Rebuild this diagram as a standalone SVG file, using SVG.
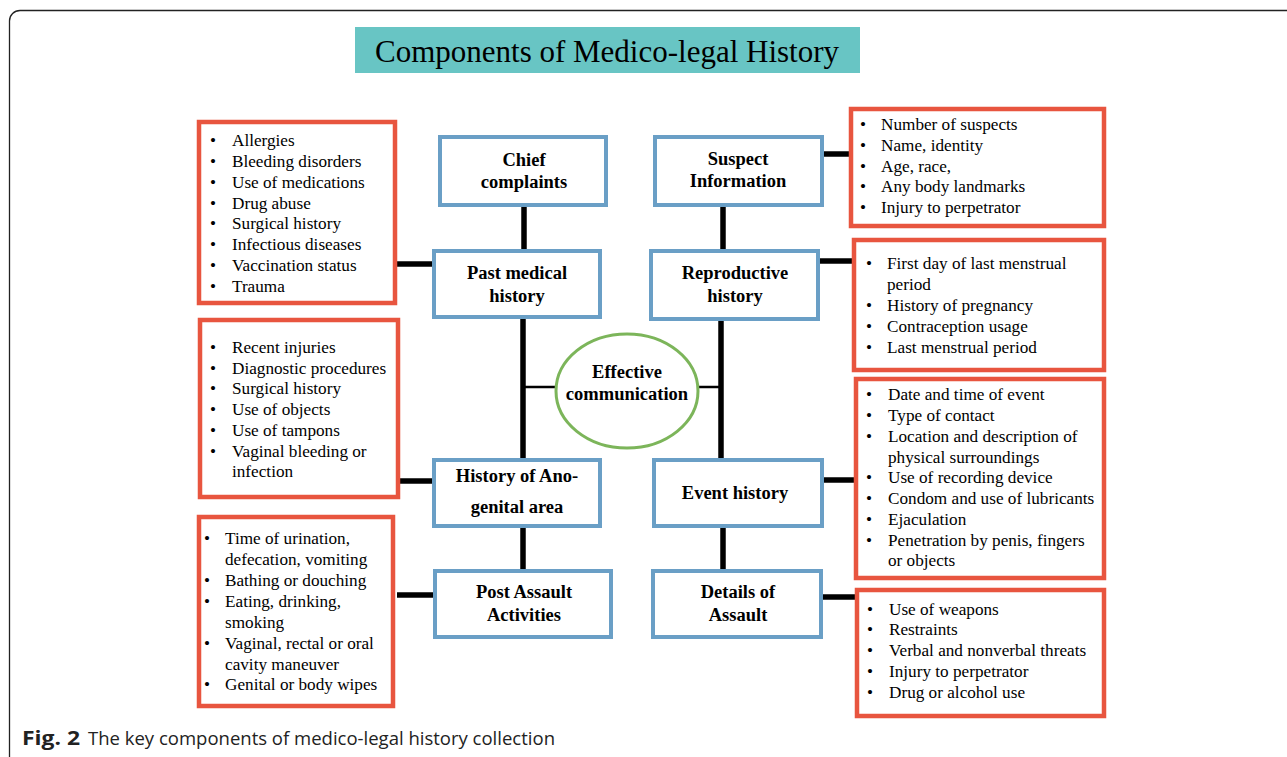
<svg xmlns="http://www.w3.org/2000/svg" width="1287" height="757" viewBox="0 0 1287 757">
<style>
.blue{fill:#fff;stroke:#6a9fc6;stroke-width:4}
.red{fill:#fff;stroke:#e8553f;stroke-width:4.5}
.bt{font-family:"Liberation Serif",serif;font-weight:bold;font-size:18.5px;text-anchor:middle;fill:#000}
.rt{font-family:"Liberation Serif",serif;font-size:17.2px;fill:#000}
.thick{stroke:#000;stroke-width:5.5}
.thin{stroke:#000;stroke-width:2.5}
</style>
<rect width="1287" height="757" fill="#fff"/>
<path d="M1287 10.5 H20 A10.5 10.5 0 0 0 9.5 21 V757" fill="none" stroke="#222" stroke-width="1.3"/>
<g id="title">
<rect x="355" y="27" width="505" height="46" fill="#68c5c4"/>
<text x="607" y="62" font-family="Liberation Serif,serif" font-size="31" text-anchor="middle" fill="#000">Components of Medico-legal History</text>
</g>
<g id="connectors">
<line class="thick" x1="524" y1="206" x2="524" y2="250"/>
<line class="thick" x1="523" y1="317" x2="523" y2="460"/>
<line class="thick" x1="523" y1="527" x2="523" y2="569"/>
<line class="thick" x1="723" y1="206" x2="723" y2="250"/>
<line class="thick" x1="721" y1="319" x2="721" y2="460"/>
<line class="thick" x1="723" y1="527" x2="723" y2="569"/>
<line class="thin" x1="523" y1="387" x2="556" y2="387"/>
<line class="thin" x1="698" y1="387" x2="721" y2="387"/>
<line class="thick" x1="397" y1="264" x2="433" y2="264"/>
<line class="thick" x1="399" y1="481" x2="433" y2="481"/>
<line class="thick" x1="397" y1="595" x2="433" y2="595"/>
<line class="thick" x1="822" y1="154" x2="851" y2="154"/>
<line class="thick" x1="818" y1="261" x2="853" y2="261"/>
<line class="thick" x1="822" y1="480" x2="855" y2="480"/>
<line class="thick" x1="821" y1="597" x2="857" y2="597"/>
</g>
<g id="chief"><rect class="blue" x="440" y="137" width="166" height="68"/><text class="bt" x="524" y="166">Chief</text><text class="bt" x="524" y="188">complaints</text></g>
<g id="past"><rect class="blue" x="434" y="251" width="166" height="66"/><text class="bt" x="517" y="279">Past medical</text><text class="bt" x="517" y="302">history</text></g>
<g id="anogenital"><rect class="blue" x="434" y="460" width="166" height="66"/><text class="bt" x="517" y="482">History of Ano-</text><text class="bt" x="517" y="513">genital area</text></g>
<g id="postassault"><rect class="blue" x="435" y="571" width="176" height="66"/><text class="bt" x="524" y="598">Post Assault</text><text class="bt" x="524" y="621">Activities</text></g>
<g id="suspect"><rect class="blue" x="655" y="137" width="167" height="68"/><text class="bt" x="738" y="165">Suspect</text><text class="bt" x="738" y="187">Information</text></g>
<g id="reproductive"><rect class="blue" x="651" y="251" width="167" height="68"/><text class="bt" x="735" y="279">Reproductive</text><text class="bt" x="735" y="302">history</text></g>
<g id="event"><rect class="blue" x="654" y="460" width="168" height="66"/><text class="bt" x="735" y="499">Event history</text></g>
<g id="details"><rect class="blue" x="653" y="571" width="168" height="66"/><text class="bt" x="738" y="598">Details of</text><text class="bt" x="738" y="621">Assault</text></g>
<g id="effective"><ellipse cx="627" cy="391" rx="71" ry="57" fill="#fff" stroke="#7cb55a" stroke-width="3"/><text class="bt" x="627" y="378">Effective</text><text class="bt" x="627" y="400">communication</text></g>
<g id="list-past"><rect class="red" x="199" y="122" width="196" height="181"/>
<text class="rt"><tspan x="210" y="146">•</tspan><tspan x="232">Allergies</tspan><tspan x="210" y="167">•</tspan><tspan x="232">Bleeding disorders</tspan><tspan x="210" y="188">•</tspan><tspan x="232">Use of medications</tspan><tspan x="210" y="209">•</tspan><tspan x="232">Drug abuse</tspan><tspan x="210" y="229">•</tspan><tspan x="232">Surgical history</tspan><tspan x="210" y="250">•</tspan><tspan x="232">Infectious diseases</tspan><tspan x="210" y="271">•</tspan><tspan x="232">Vaccination status</tspan><tspan x="210" y="292">•</tspan><tspan x="232">Trauma</tspan></text></g>
<g id="list-ano"><rect class="red" x="200" y="320" width="198" height="177"/>
<text class="rt"><tspan x="210" y="353">•</tspan><tspan x="232">Recent injuries</tspan><tspan x="210" y="374">•</tspan><tspan x="232">Diagnostic procedures</tspan><tspan x="210" y="394">•</tspan><tspan x="232">Surgical history</tspan><tspan x="210" y="415">•</tspan><tspan x="232">Use of objects</tspan><tspan x="210" y="436">•</tspan><tspan x="232">Use of tampons</tspan><tspan x="210" y="457">•</tspan><tspan x="232">Vaginal bleeding or</tspan><tspan x="232" y="477">infection</tspan></text></g>
<g id="list-post"><rect class="red" x="199" y="517" width="194" height="189"/>
<text class="rt"><tspan x="204" y="544">•</tspan><tspan x="225">Time of urination,</tspan><tspan x="225" y="565">defecation, vomiting</tspan><tspan x="204" y="586">•</tspan><tspan x="225">Bathing or douching</tspan><tspan x="204" y="607">•</tspan><tspan x="225">Eating, drinking,</tspan><tspan x="225" y="628">smoking</tspan><tspan x="204" y="649">•</tspan><tspan x="225">Vaginal, rectal or oral</tspan><tspan x="225" y="670">cavity maneuver</tspan><tspan x="204" y="690">•</tspan><tspan x="225">Genital or body wipes</tspan></text></g>
<g id="list-suspect"><rect class="red" x="851" y="109" width="253" height="117"/>
<text class="rt"><tspan x="860" y="130">•</tspan><tspan x="881">Number of suspects</tspan><tspan x="860" y="151">•</tspan><tspan x="881">Name, identity</tspan><tspan x="860" y="172">•</tspan><tspan x="881">Age, race,</tspan><tspan x="860" y="192">•</tspan><tspan x="881">Any body landmarks</tspan><tspan x="860" y="213">•</tspan><tspan x="881">Injury to perpetrator</tspan></text></g>
<g id="list-repro"><rect class="red" x="854" y="240" width="250" height="130"/>
<text class="rt"><tspan x="866" y="269">•</tspan><tspan x="887">First day of last menstrual</tspan><tspan x="887" y="290">period</tspan><tspan x="866" y="311">•</tspan><tspan x="887">History of pregnancy</tspan><tspan x="866" y="332">•</tspan><tspan x="887">Contraception usage</tspan><tspan x="866" y="353">•</tspan><tspan x="887">Last menstrual period</tspan></text></g>
<g id="list-event"><rect class="red" x="856" y="379" width="248" height="199"/>
<text class="rt"><tspan x="866" y="400">•</tspan><tspan x="888">Date and time of event</tspan><tspan x="866" y="421">•</tspan><tspan x="888">Type of contact</tspan><tspan x="866" y="442">•</tspan><tspan x="888">Location and description of</tspan><tspan x="888" y="463">physical surroundings</tspan><tspan x="866" y="483">•</tspan><tspan x="888">Use of recording device</tspan><tspan x="866" y="504">•</tspan><tspan x="888">Condom and use of lubricants</tspan><tspan x="866" y="525">•</tspan><tspan x="888">Ejaculation</tspan><tspan x="866" y="546">•</tspan><tspan x="888">Penetration by penis, fingers</tspan><tspan x="888" y="566">or objects</tspan></text></g>
<g id="list-details"><rect class="red" x="857" y="590" width="247" height="126"/>
<text class="rt"><tspan x="867" y="615">•</tspan><tspan x="889">Use of weapons</tspan><tspan x="867" y="635">•</tspan><tspan x="889">Restraints</tspan><tspan x="867" y="656">•</tspan><tspan x="889">Verbal and nonverbal threats</tspan><tspan x="867" y="677">•</tspan><tspan x="889">Injury to perpetrator</tspan><tspan x="867" y="698">•</tspan><tspan x="889">Drug or alcohol use</tspan></text></g>
<g id="caption"><text y="745" font-family="Open Sans,Liberation Sans,sans-serif" font-size="19" fill="#222"><tspan x="22" font-weight="bold" textLength="58" lengthAdjust="spacingAndGlyphs">Fig. 2</tspan><tspan x="88" textLength="467" lengthAdjust="spacingAndGlyphs">The key components of medico-legal history collection</tspan></text></g>
</svg>
